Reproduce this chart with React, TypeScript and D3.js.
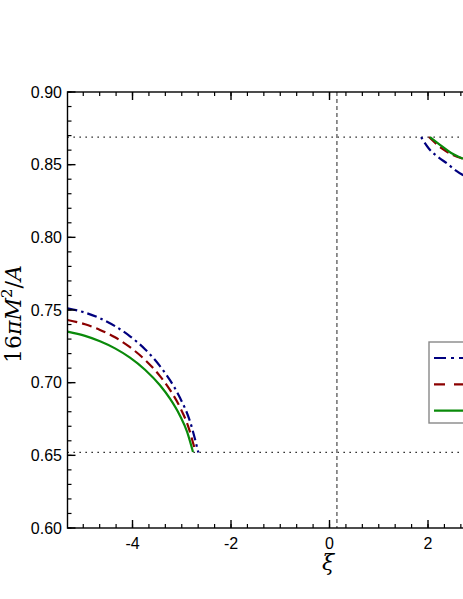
import * as d3 from "d3";

// ── Data ──────────────────────────────────────────────────
const blueLeftXi  = [-5.32, -4.964, -4.66, -4.355, -4.051, -3.746, -3.442, -3.239, -3.036, -2.832, -2.664];
const blueLeftY   = [0.7512, 0.7482, 0.7443, 0.7389, 0.7319, 0.7230, 0.7114, 0.7017, 0.6896, 0.6733, 0.6520];
const redLeftXi   = [-5.32, -4.964, -4.66, -4.355, -4.051, -3.746, -3.442, -3.239, -3.036, -2.873, -2.721];
const redLeftY    = [0.7431, 0.7402, 0.7363, 0.7312, 0.7244, 0.7157, 0.7045, 0.6950, 0.6831, 0.6703, 0.6523];
const greenLeftXi = [-5.32, -4.964, -4.66, -4.355, -4.051, -3.746, -3.442, -3.239, -3.036, -2.893, -2.772];
const greenLeftY  = [0.7351, 0.7322, 0.7285, 0.7236, 0.7172, 0.7089, 0.6982, 0.6890, 0.6773, 0.6663, 0.6523];

const blueRightXi  = [1.86, 2.02, 2.22, 2.39, 2.56, 2.75];
const blueRightY   = [0.8690, 0.8610, 0.8549, 0.8507, 0.8461, 0.8420];
const redRightXi   = [2.02, 2.28, 2.50, 2.75];
const redRightY    = [0.8690, 0.8612, 0.8568, 0.8538];
const greenRightXi = [2.04, 2.30, 2.47, 2.63, 2.75];
const greenRightY  = [0.8690, 0.8622, 0.8580, 0.8553, 0.8537];

const hLines = [0.869, 0.652];
const vLine = 0.15;

const xMajor = [-4, -2, 0, 2, 4];
const yMajor = [0.60, 0.65, 0.70, 0.75, 0.80, 0.85, 0.90];

// ── Layout ────────────────────────────────────────────────
const W = 463;
const H = 599;
const X_DOMAIN: [number, number] = [-5.32, 5.32];
const Y_DOMAIN: [number, number] = [0.60, 0.90];
const LEFT = 67.5;
const TOP = 92;
const BOTTOM = 528;
const PX_PER_UNIT = 49.25;
const RIGHT = LEFT + (X_DOMAIN[1] - X_DOMAIN[0]) * PX_PER_UNIT;

const x = d3.scaleLinear().domain(X_DOMAIN).range([LEFT, RIGHT]);
const y = d3.scaleLinear().domain(Y_DOMAIN).range([BOTTOM, TOP]);

const xMinor = d3.range(-16, 17).map(i => i / 3).filter(v => v > X_DOMAIN[0] && v < X_DOMAIN[1]);
const yMinor = d3.range(60, 91).map(i => i / 100);

const BLUE = "#00007f";
const RED = "#8b0000";
const GREEN = "#0a8a0a";

const series = [
  { xs: blueLeftXi, ys: blueLeftY, color: BLUE, dash: "10,4,2.5,4" },
  { xs: redLeftXi, ys: redLeftY, color: RED, dash: "10,5" },
  { xs: greenLeftXi, ys: greenLeftY, color: GREEN, dash: null },
  { xs: blueRightXi, ys: blueRightY, color: BLUE, dash: "2.5,4,10,4" },
  { xs: redRightXi, ys: redRightY, color: RED, dash: "10,5" },
  { xs: greenRightXi, ys: greenRightY, color: GREEN, dash: null },
];

const line = d3.line<[number, number]>()
  .x(d => x(d[0]))
  .y(d => y(d[1]))
  .curve(d3.curveMonotoneX);

const legendItems = [
  { color: BLUE, dash: "12,5,3,5" },
  { color: RED, dash: "11,9" },
  { color: GREEN, dash: null },
];

const TICK_FONT = "'Liberation Sans', Arial, sans-serif";
const MATH_FONT = "'DejaVu Serif', 'Liberation Serif', serif";

export default function App() {
  return (
    <svg width={W} height={H}
      style={{ position: "absolute", left: 0, top: 0, background: "#fff" }}>
      <defs>
        <clipPath id="plot">
          <rect x={LEFT} y={TOP} width={RIGHT - LEFT} height={BOTTOM - TOP} />
        </clipPath>
      </defs>

      {/* reference lines */}
      {hLines.map(v => (
        <line key={v} x1={LEFT} x2={RIGHT} y1={y(v)} y2={y(v)}
          stroke="#000" strokeWidth={1.2} strokeDasharray="1.3,4.7" />
      ))}
      <line x1={x(vLine)} x2={x(vLine)} y1={TOP} y2={BOTTOM}
        stroke="#777" strokeWidth={1.6} strokeDasharray="4,3" />

      {/* curves */}
      <g clipPath="url(#plot)">
        {series.map((s, i) => (
          <path key={i}
            d={line(s.xs.map((v, j) => [v, s.ys[j]] as [number, number])) || ""}
            fill="none" stroke={s.color} strokeWidth={2.2}
            strokeDasharray={s.dash || undefined} />
        ))}
      </g>

      {/* frame */}
      <rect x={LEFT} y={TOP} width={RIGHT - LEFT} height={BOTTOM - TOP}
        fill="none" stroke="#000" strokeWidth={1.4} />

      {/* x ticks (bottom + top, inward) */}
      {xMinor.map(v => (
        <g key={"xm" + v}>
          <line x1={x(v)} x2={x(v)} y1={BOTTOM} y2={BOTTOM - 4} stroke="#000" strokeWidth={1.2} />
          <line x1={x(v)} x2={x(v)} y1={TOP} y2={TOP + 4} stroke="#000" strokeWidth={1.2} />
        </g>
      ))}
      {xMajor.map(v => (
        <g key={"xM" + v}>
          <line x1={x(v)} x2={x(v)} y1={BOTTOM} y2={BOTTOM - 8} stroke="#000" strokeWidth={1.4} />
          <line x1={x(v)} x2={x(v)} y1={TOP} y2={TOP + 8} stroke="#000" strokeWidth={1.4} />
          {x(v) < W - 10 && (
            <text x={x(v)} y={548.5} textAnchor="middle" fontSize={16}
              fontFamily={TICK_FONT} fill="#000">{v < 0 ? `-${-v}` : v}</text>
          )}
        </g>
      ))}

      {/* y ticks (left, inward) */}
      {yMinor.map(v => (
        <line key={"ym" + v} x1={LEFT} x2={LEFT + 4} y1={y(v)} y2={y(v)}
          stroke="#000" strokeWidth={1.2} />
      ))}
      {yMajor.map(v => (
        <g key={"yM" + v}>
          <line x1={LEFT} x2={LEFT + 8} y1={y(v)} y2={y(v)} stroke="#000" strokeWidth={1.4} />
          <text x={62} y={y(v)} dy="0.36em" textAnchor="end" fontSize={16}
            fontFamily={TICK_FONT} fill="#000">{v.toFixed(2)}</text>
        </g>
      ))}

      {/* axis titles */}
      <text transform="translate(21, 314) rotate(-90)" textAnchor="middle"
        fontSize={22} fontFamily={MATH_FONT} fill="#000">
        16<tspan fontStyle="italic">πM</tspan>
        <tspan fontSize={15} dy={-9}>2</tspan>
        <tspan dy={9}>/</tspan><tspan fontStyle="italic">A</tspan>
      </text>
      <text x={328} y={570} textAnchor="middle" fontSize={22}
        fontFamily={MATH_FONT} fontStyle="italic" fill="#000">ξ</text>

      {/* legend (cut by the right edge) */}
      <rect x={429} y={342} width={130} height={81} fill="#fff"
        stroke="#888" strokeWidth={1.4} />
      {legendItems.map((l, i) => (
        <line key={i} x1={434} x2={480} y1={358 + i * 26.3} y2={358 + i * 26.3}
          stroke={l.color} strokeWidth={2.2} strokeDasharray={l.dash || undefined} />
      ))}
    </svg>
  );
}
